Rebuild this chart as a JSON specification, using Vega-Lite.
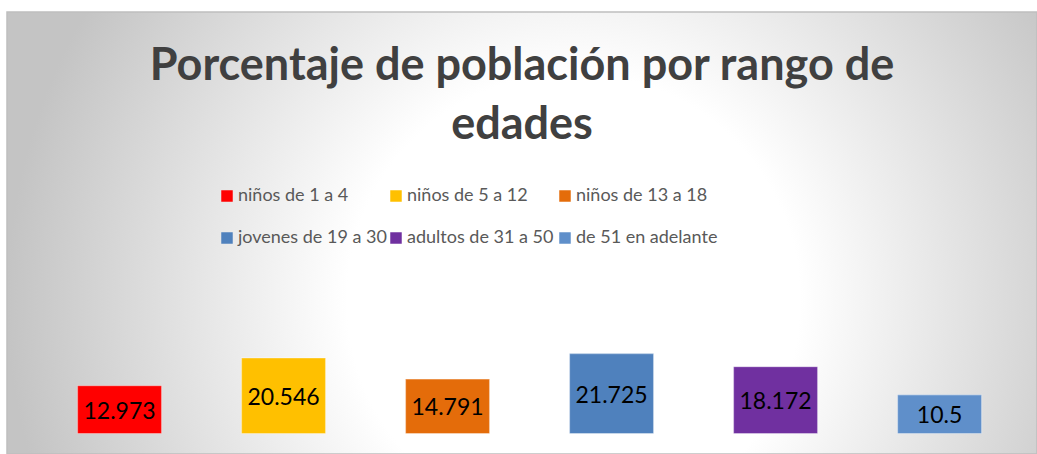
{
  "$schema": "https://vega.github.io/schema/vega-lite/v6.json",
  "autosize": "none",
  "width": 1030,
  "height": 442,
  "padding": {"left": 7, "top": 12, "right": 0, "bottom": 0},
  "background": "#ffffff",
  "config": {
    "view": {
      "stroke": "#bfbfbf",
      "strokeWidth": 1.5,
      "fill": {
        "gradient": "radial",
        "x1": 0.55, "y1": 0.565, "r1": 0,
        "x2": 0.55, "y2": 0.565, "r2": 0.55,
        "stops": [
          {"offset": 0, "color": "#ffffff"},
          {"offset": 0.4, "color": "#ffffff"},
          {"offset": 1, "color": "#c4c4c4"}
        ]
      }
    }
  },
  "title": {
    "text": ["Porcentaje de población por rango de", "edades"],
    "orient": "top",
    "anchor": "middle",
    "frame": "group",
    "baseline": "top",
    "offset": -136,
    "lineHeight": 59,
    "font": "Lato",
    "fontSize": 45,
    "fontWeight": "bold",
    "color": "#404040"
  },
  "data": {
    "values": [
      {"grupo": "niños de 1 a 4", "valor": 12.973},
      {"grupo": "niños de 5 a 12", "valor": 20.546},
      {"grupo": "niños de 13 a 18", "valor": 14.791},
      {"grupo": "jovenes de 19 a 30", "valor": 21.725},
      {"grupo": "adultos de 31 a 50", "valor": 18.172},
      {"grupo": "de 51 en adelante", "valor": 10.5}
    ]
  },
  "encoding": {
    "x": {
      "field": "grupo",
      "type": "nominal",
      "sort": null,
      "axis": null,
      "scale": {"paddingInner": 0.4878, "paddingOuter": 0.384, "align": 0.56}
    }
  },
  "layer": [
    {
      "mark": {"type": "bar", "stroke": "#ffffff", "strokeOpacity": 0.35, "strokeWidth": 1.2},
      "encoding": {
        "y": {
          "field": "valor",
          "type": "quantitative",
          "axis": null,
          "scale": {"domain": [-5.57, 114.54], "nice": false, "zero": false}
        },
        "color": {
          "field": "grupo",
          "type": "nominal",
          "sort": null,
          "scale": {
            "domain": ["niños de 1 a 4", "niños de 5 a 12", "niños de 13 a 18", "jovenes de 19 a 30", "adultos de 31 a 50", "de 51 en adelante"],
            "range": ["#ff0000", "#ffc000", "#e46c0a", "#4f81bd", "#7030a0", "#5f8fca"]
          },
          "legend": {
            "title": null,
            "orient": "none",
            "legendX": 211,
            "legendY": 175,
            "direction": "horizontal",
            "columns": 3,
            "gridAlign": "all",
            "padding": 0,
            "symbolType": "square",
            "symbolSize": 132,
            "symbolStrokeWidth": 0,
            "symbolOpacity": 1,
            "labelFont": "Lato",
            "labelFontSize": 18,
            "labelColor": "#595959",
            "labelOffset": 2,
            "labelLimit": 300,
            "columnPadding": 0,
            "rowPadding": 24
          }
        }
      }
    },
    {
      "mark": {"type": "text", "font": "Lato", "fontSize": 23, "color": "#000000", "baseline": "middle", "dy": 2},
      "encoding": {
        "y": {
          "field": "valor",
          "type": "quantitative",
          "axis": null,
          "scale": {"domain": [-11.14, 229.08], "nice": false, "zero": false}
        },
        "text": {"field": "valor", "type": "quantitative", "format": ".5~"}
      }
    }
  ],
  "resolve": {"scale": {"y": "independent"}}
}
